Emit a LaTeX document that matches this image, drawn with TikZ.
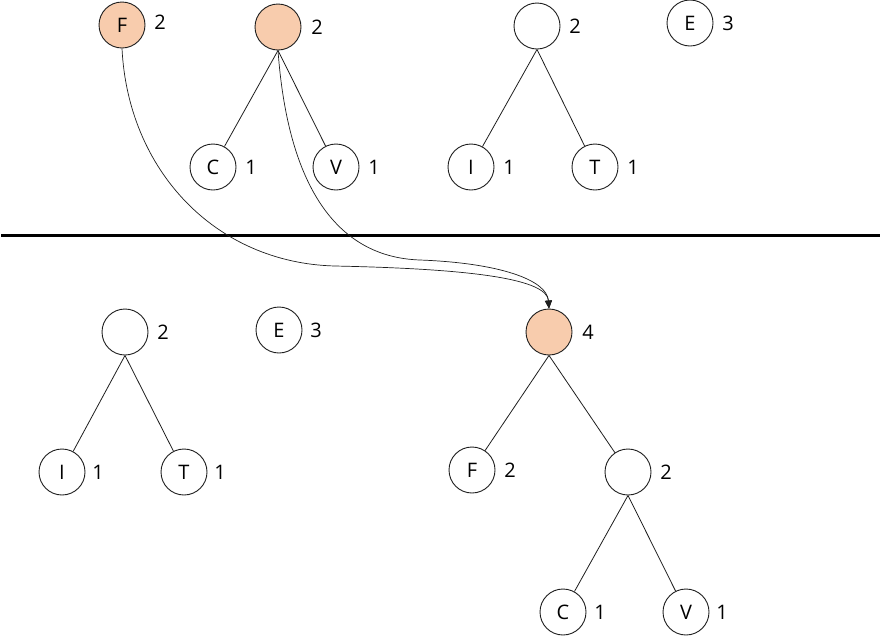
\documentclass[tikz,border=0pt]{standalone}
\usepackage{fontspec}
\setmainfont{Open Sans}
\usetikzlibrary{arrows.meta}
\definecolor{peach}{RGB}{248,204,173}
\definecolor{edgec}{RGB}{30,30,30}
\begin{document}
\begin{tikzpicture}[x=1pt,y=-1pt,
  tn/.style={circle,draw=edgec,line width=0.9pt,minimum size=46pt,inner sep=0pt,font=\fontsize{20}{24}\selectfont},
  hot/.style={tn,fill=peach},
  num/.style={font=\fontsize{20}{24}\selectfont,inner sep=0pt},
  edge/.style={draw=edgec,line width=0.8pt},
  link/.style={draw=edgec,line width=0.7pt,-{Triangle[length=8pt,width=7pt]}}]
\useasboundingbox (0,0) rectangle (882,641);
% top half
\node[hot] (f1) at (122,25) {F};
\node[num] (f1n) at (160,22) {2};
\node[hot] (r1) at (278,27) {};
\node[num] (r1n) at (317,27) {2};
\node[tn] (c1) at (213,167) {C};
\node[num] (c1n) at (251,167) {1};
\node[tn] (v1) at (336,167) {V};
\node[num] (v1n) at (374,167) {1};
\node[tn] (r2) at (537,26) {};
\node[num] (r2n) at (575,26) {2};
\node[tn] (i1) at (471,167) {I};
\node[num] (i1n) at (509,167) {1};
\node[tn] (t1) at (595,167) {T};
\node[num] (t1n) at (633,167) {1};
\node[tn] (e1) at (690,23) {E};
\node[num] (e1n) at (728,23) {3};
\draw[edge] (r1.south) -- (c1);
\draw[edge] (r1.south) -- (v1);
\draw[edge] (r2.south) -- (i1);
\draw[edge] (r2.south) -- (t1);
% separator
\coordinate (sepL) at (1,235);
\coordinate (sepR) at (880,235);
\draw[line width=3pt] (sepL) -- (sepR);
% bottom half
\node[tn] (r3) at (125,332) {};
\node[num] (r3n) at (163,332) {2};
\node[tn] (i2) at (62,472) {I};
\node[num] (i2n) at (98,472) {1};
\node[tn] (t2) at (184,472) {T};
\node[num] (t2n) at (220,472) {1};
\node[tn] (e2) at (279,330) {E};
\node[num] (e2n) at (316,330) {3};
\node[hot] (r4) at (549,332) {};
\node[num] (r4n) at (588,332) {4};
\node[tn] (f2) at (472,470) {F};
\node[num] (f2n) at (510,470) {2};
\node[tn] (r5) at (628,472) {};
\node[num] (r5n) at (666,472) {2};
\node[tn] (c2) at (563,612) {C};
\node[num] (c2n) at (600,612) {1};
\node[tn] (v2) at (686,612) {V};
\node[num] (v2n) at (722,612) {1};
\draw[edge] (r3.south) -- (i2);
\draw[edge] (r3.south) -- (t2);
\draw[edge] (r4.south) -- (f2);
\draw[edge] (r4.south) -- (r5);
\draw[edge] (r5.south) -- (c2);
\draw[edge] (r5.south) -- (v2);
% moves
\coordinate (m1) at (335,266);
\coordinate (m2) at (420,260);
\draw[link] (f1.south) .. controls (128,170) and (215,263) .. (m1)
  .. controls (480,269) and (547,280) .. (r4.north);
\draw[link] (r1.south) .. controls (287,175) and (330,257) .. (m2)
  .. controls (500,263) and (547,280) .. (r4.north);
\end{tikzpicture}
\end{document}
